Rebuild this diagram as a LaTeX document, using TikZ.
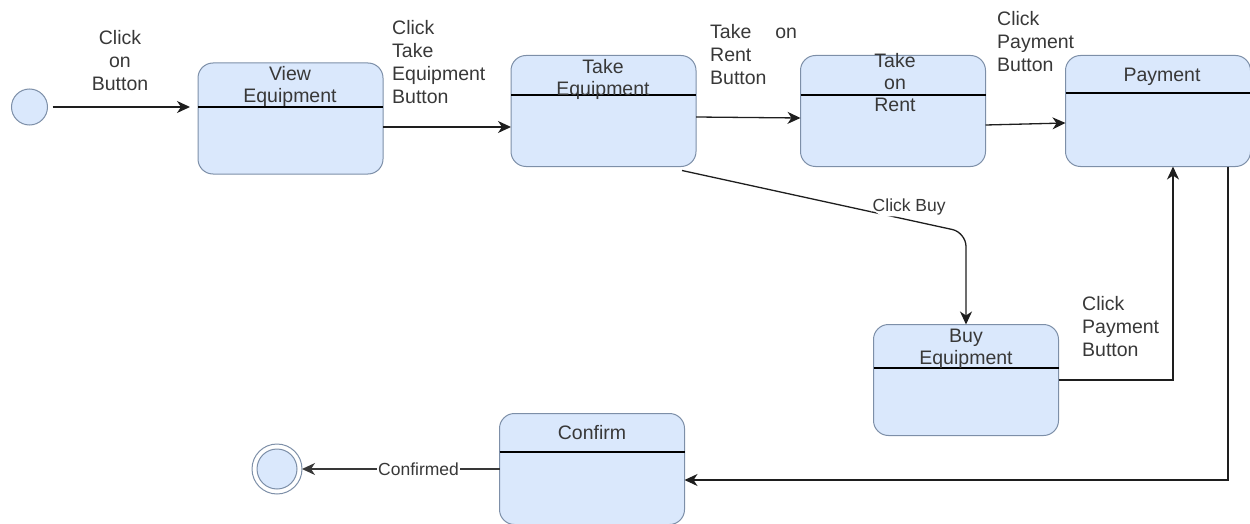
\documentclass[tikz,border=0pt]{standalone}
\usepackage{fontspec}
\setmainfont{Liberation Sans}
\usetikzlibrary{arrows.meta,positioning}
\definecolor{statefill}{HTML}{DAE8FC}
\definecolor{stateline}{HTML}{7D8FA8}
\definecolor{txt}{HTML}{383838}
\definecolor{arrowcol}{HTML}{1E1E1E}

\tikzset{
  state/.style={draw=stateline, fill=statefill, rounded corners=15pt, minimum width=185pt,
    minimum height=111pt, inner sep=0pt, outer sep=0pt, line width=1pt},
  statetitle/.style={text=txt, align=center, font=\fontsize{19.5}{22}\selectfont, inner sep=0pt},
  divider/.style={line width=1.2pt, black},
  flow/.style={line width=1.3pt, draw=arrowcol, -{Stealth[length=13pt,width=12pt,inset=4pt]}},
  freelabel/.style={text=txt, align=left, font=\fontsize{19.5}{23}\selectfont, inner sep=0pt},
  edgelabel/.style={text=txt, fill=white, font=\fontsize{17.5}{20}\selectfont, inner sep=1pt},
  startstate/.style={circle, draw=stateline, fill=statefill, minimum size=36pt, inner sep=0pt,
    outer sep=0pt, line width=1pt},
}

\begin{document}
\begin{tikzpicture}[x=1pt, y=-1pt]

  \useasboundingbox (0,0) rectangle (1250,524);

  % Initial and final states
  \node[startstate] (init) at (29.5,107) {};
  \node[startstate, fill=white, minimum size=50pt] (final) at (277,469) {};
  \node[startstate, minimum size=40pt] (finalcore) at (final) {};

  % State boxes
  \node[state] (view) at (290.5,118.5) {};
  \node[state] (takeeq) at (603.5,111) {};
  \node[state] (rent) at (893,111) {};
  \node[state] (payment) at (1158,111) {};
  \node[state] (buy) at (966,380) {};
  \node[state] (confirm) at (592,469) {};

  % Dividers
  \draw[divider] (198,107) -- (383,107);
  \draw[divider] (511,95) -- (696,95);
  \draw[divider] (800.5,95) -- (985.5,95);
  \draw[divider] (1065.5,93) -- (1250,93);
  \draw[divider] (873.5,368) -- (1058.5,368);
  \draw[divider] (499.5,452) -- (684.5,452);

  % State names
  \node[statetitle] (viewtitle) at (290,86.5) {View\\Equipment};
  \node[statetitle] (takeeqtitle) at (603,79) {Take\\Equipment};
  \node[statetitle] (renttitle) at (895,83) {Take\\on\\Rent};
  \node[statetitle] (paymenttitle) at (1162,77) {Payment};
  \node[statetitle] (buytitle) at (966,348.5) {Buy\\Equipment};
  \node[statetitle] (confirmtitle) at (592,433) {Confirm};

  % Transitions
  \draw[flow, shorten <=5pt, shorten >=8pt] (init) -- (init -| view.west);
  \draw[flow] ([yshift=-8.5pt]view.east) -- ([yshift=-16pt]takeeq.west);
  \draw[flow] ([yshift=-6pt]takeeq.east) -- ([yshift=-7pt]rent.west);
  \draw[flow] ([yshift=-14pt]rent.east) -- ([yshift=-12pt]payment.west);
  \draw[flow, rounded corners=14pt] ([xshift=-14pt,yshift=-4pt]takeeq.south east)
    -- node[edgelabel, pos=0.8, yshift=13pt] (buylabel) {Click Buy} ([yshift=92pt]buy.north)
    -- (buy.north);
  \draw[flow] (buy.east) -| ([xshift=15pt]payment.south);
  \draw[flow] ([xshift=70pt]payment.south) |- ([yshift=-11pt]confirm.east);
  \draw[flow, draw=txt] (confirm.west) -- node[edgelabel, pos=0.41] (donelabel) {Confirmed} (final);

  % Transition labels
  \node[freelabel, align=center] (clicklabel) at (120,61) {Click\\on\\Button};
  \node[freelabel, anchor=west] (takelabel) at (392,62.5) {Click\\Take\\Equipment\\Button};
  \node[freelabel, anchor=west] (rentlabel) at (710,55) {Take\hspace{24pt}on\\Rent\\Button};
  \node[freelabel, anchor=west] (paylabel) at (997,41.5) {Click\\Payment\\Button};
  \node[freelabel, anchor=west] (buypaylabel) at (1082,326.5) {Click\\Payment\\Button};

\end{tikzpicture}
\end{document}
